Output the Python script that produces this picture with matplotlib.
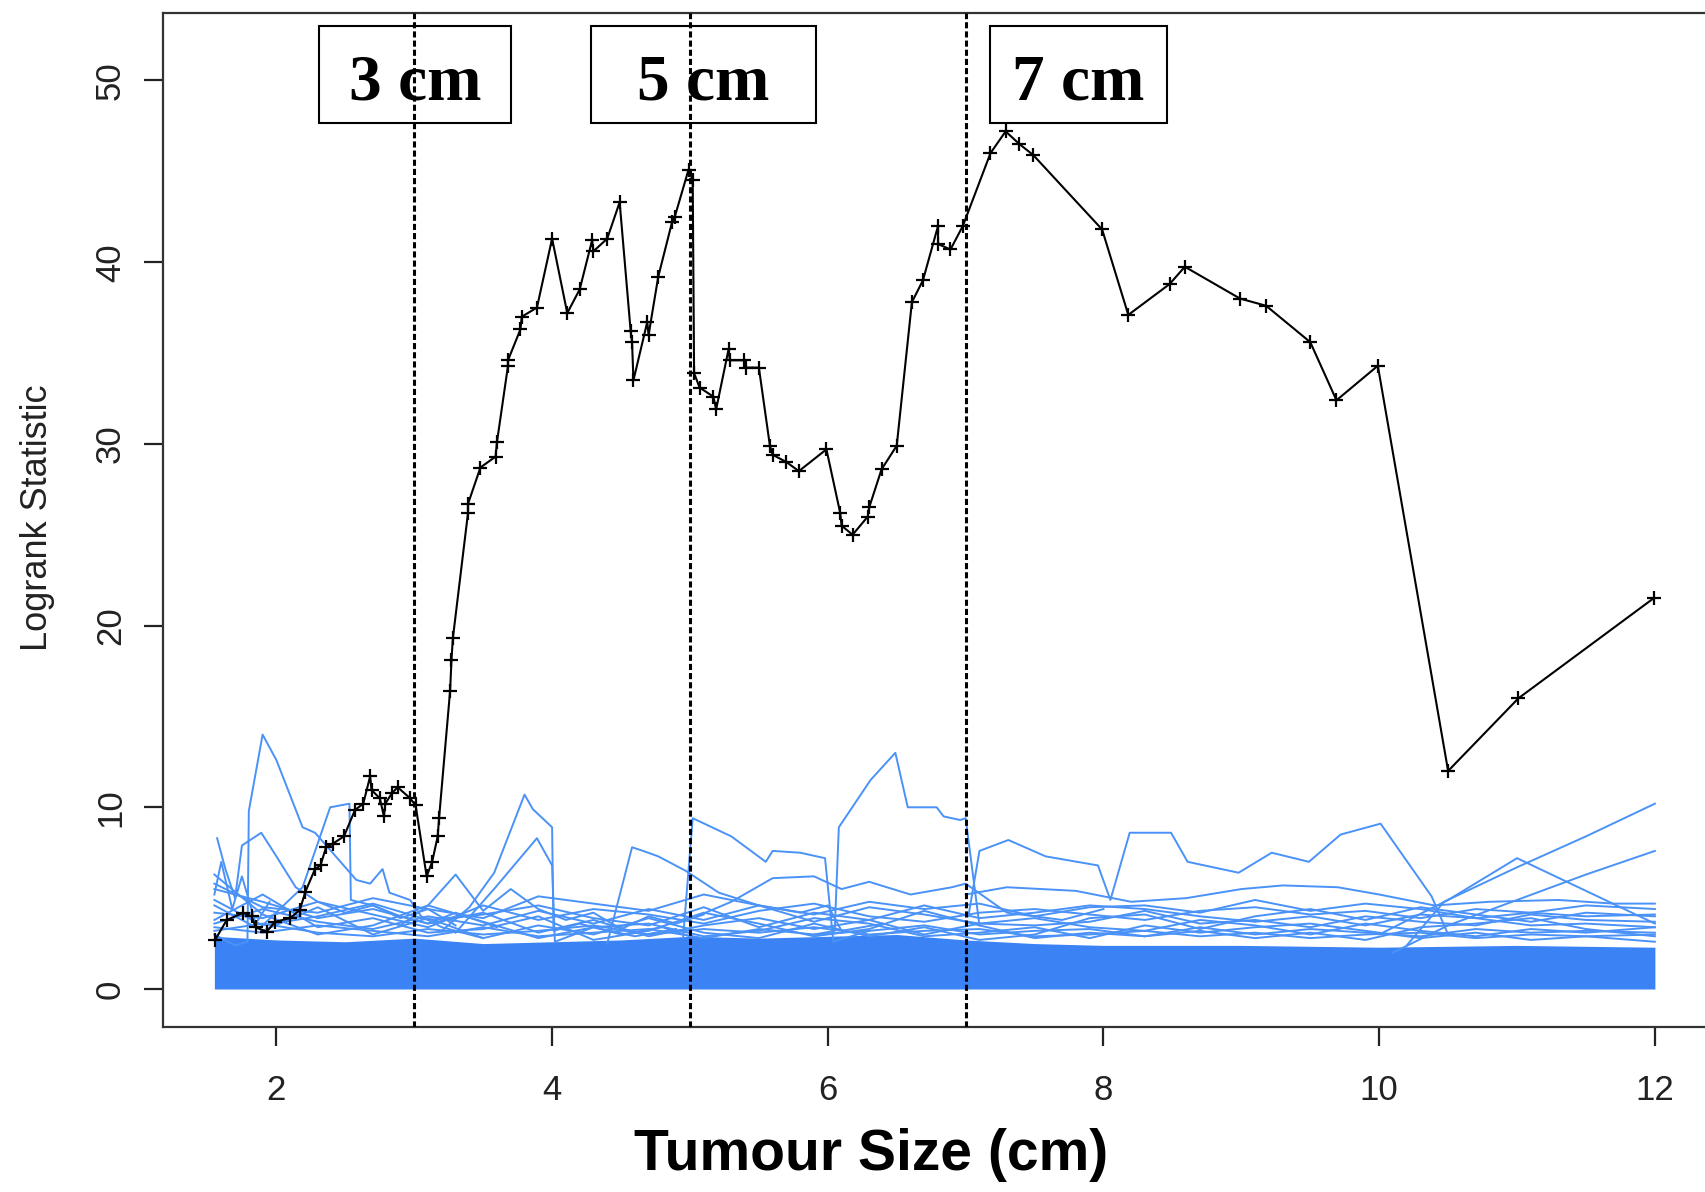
import matplotlib
matplotlib.use("Agg")
import matplotlib.pyplot as plt
from matplotlib.patches import Rectangle

# observed logrank scan (black, "+" markers)
scan_x = [1.555, 1.64, 1.76, 1.82, 1.85, 1.93, 1.99, 2.10, 2.17, 2.21, 2.28, 2.32, 2.36, 2.41,
          2.49, 2.57, 2.63, 2.68, 2.69, 2.75, 2.78, 2.79, 2.84, 2.88, 2.97, 3.01, 3.09, 3.13,
          3.17, 3.18, 3.26, 3.27, 3.28, 3.39, 3.39, 3.48, 3.59, 3.60, 3.68, 3.68, 3.77, 3.78,
          3.89, 4.00, 4.11, 4.20, 4.29, 4.30, 4.40, 4.49, 4.57, 4.58, 4.59, 4.69, 4.70, 4.77,
          4.87, 4.89, 4.99, 5.02, 5.03, 5.07, 5.17, 5.19, 5.28, 5.29, 5.39, 5.41, 5.50, 5.58,
          5.60, 5.70, 5.79, 5.99, 6.09, 6.10, 6.18, 6.29, 6.30, 6.39, 6.50, 6.61, 6.69, 6.80,
          6.80, 6.89, 6.98, 7.18, 7.29, 7.39, 7.49, 7.99, 8.18, 8.48, 8.59, 8.99, 9.18, 9.50,
          9.69, 9.99, 10.50, 11.01, 11.99]
scan_y = [2.7, 3.8, 4.2, 4.0, 3.4, 3.15, 3.7, 3.9, 4.35, 5.35, 6.6, 6.8, 7.8, 8.0,
          8.4, 9.85, 10.2, 11.7, 10.95, 10.5, 9.5, 10.2, 10.8, 11.1, 10.5, 10.1, 6.2, 7.0,
          8.4, 9.4, 16.4, 18.1, 19.3, 26.2, 26.7, 28.7, 29.3, 30.1, 34.3, 34.6, 36.3, 37.0,
          37.5, 41.3, 37.2, 38.5, 41.2, 40.6, 41.3, 43.3, 36.2, 35.6, 33.5, 36.7, 36.0, 39.2,
          42.2, 42.5, 45.1, 44.5, 33.9, 33.1, 32.6, 31.9, 35.2, 34.6, 34.6, 34.2, 34.2, 29.9,
          29.4, 29.0, 28.5, 29.7, 26.2, 25.5, 25.0, 26.0, 26.5, 28.6, 29.9, 37.8, 39.0, 42.0,
          41.0, 40.7, 42.0, 46.0, 47.2, 46.5, 45.9, 41.8, 37.1, 38.8, 39.75, 38.0, 37.6, 35.6,
          32.4, 34.3, 12.0, 16.0, 21.5]

# dense part of the bootstrap null scans (solid blue mass)
band_x = [1.55, 2.0, 2.5, 3.0, 3.5, 4.0, 4.5, 5.0, 5.5, 6.0, 6.5, 7.0, 7.5, 8.0, 9.0, 10.0, 11.0, 12.0]
band_top = [2.9, 2.7, 2.6, 2.8, 2.5, 2.6, 2.7, 2.9, 2.8, 2.9, 3.0, 2.7, 2.5, 2.4, 2.4, 2.3, 2.4, 2.3]

# individual bootstrap null scans that stand out above the mass
null_scans = [
    ([1.55, 1.7, 1.79, 1.80, 1.90, 2.0, 2.19, 2.28, 2.35, 2.58, 2.68, 2.77, 2.82, 2.97, 3.05, 3.2, 3.5],
     [3.0, 2.4, 2.6, 9.8, 14.0, 12.6, 8.9, 8.6, 8.0, 6.0, 5.8, 6.6, 5.3, 4.9, 4.0, 3.4, 2.8]),
    ([1.57, 1.63, 1.7, 1.75, 1.89, 2.0, 2.14, 2.3, 2.5, 2.7, 2.9, 3.1, 3.3],
     [8.3, 6.6, 5.0, 7.9, 8.6, 7.3, 5.6, 4.8, 4.2, 4.6, 3.9, 4.4, 3.5]),
    ([1.9, 2.19, 2.39, 2.53, 2.54, 2.7, 2.9, 3.1, 3.3, 3.6],
     [3.5, 5.6, 10.0, 10.2, 4.9, 4.6, 4.0, 3.6, 4.2, 3.4]),
    ([3.2, 3.4, 3.58, 3.8, 3.86, 4.0, 4.01, 4.2, 4.5, 4.8, 5.0],
     [3.2, 4.5, 6.4, 10.7, 9.9, 8.9, 3.2, 3.6, 3.0, 3.4, 2.9]),
    ([3.3, 3.59, 3.89, 4.0, 4.02, 4.3, 4.6, 4.9],
     [3.1, 5.6, 8.3, 6.8, 2.6, 3.4, 2.9, 3.3]),
    ([4.4, 4.58, 4.66, 4.77, 4.97, 5.07, 5.21, 5.5, 5.8, 6.0, 6.1, 6.4],
     [2.5, 7.8, 7.6, 7.3, 6.5, 6.0, 5.3, 4.6, 4.2, 4.6, 3.2, 3.6]),
    ([4.95, 5.02, 5.3, 5.55, 5.6, 5.8, 5.98, 6.04, 6.3],
     [2.8, 9.4, 8.4, 7.0, 7.6, 7.5, 7.2, 2.6, 3.2]),
    ([5.9, 6.05, 6.08, 6.31, 6.49, 6.58, 6.79, 6.84, 6.96, 7.0, 7.1],
     [3.0, 3.2, 8.9, 11.5, 13.0, 10.0, 10.0, 9.5, 9.3, 9.4, 3.5]),
    ([7.02, 7.1, 7.31, 7.58, 7.96, 8.05, 8.19, 8.49, 8.61, 8.98, 9.22, 9.49, 9.72, 10.01, 10.38, 10.5],
     [4.0, 7.6, 8.2, 7.3, 6.8, 4.9, 8.6, 8.6, 7.0, 6.4, 7.5, 7.0, 8.5, 9.1, 5.1, 3.0]),
    ([10.2, 10.47, 11.0, 11.5, 12.0], [2.4, 4.8, 6.7, 8.4, 10.2]),
    ([10.1, 10.5, 11.0, 11.5, 12.0], [2.0, 3.5, 4.9, 6.3, 7.6]),
    ([10.0, 10.5, 11.0, 11.5, 12.0], [3.0, 4.9, 7.2, 5.4, 3.6]),
    ([7.0, 7.3, 7.8, 8.2, 8.6, 9.0, 9.3, 9.7, 10.0, 10.4, 10.8, 11.3, 11.7, 12.0],
     [5.2, 5.6, 5.4, 4.8, 5.0, 5.5, 5.7, 5.6, 5.2, 4.6, 4.8, 4.9, 4.7, 4.7]),
    ([5.05, 5.3, 5.6, 5.9, 6.1, 6.3, 6.6, 6.9, 7.0, 7.3, 7.7, 8.0],
     [4.0, 4.8, 6.1, 6.2, 5.5, 5.9, 5.2, 5.6, 5.8, 4.2, 3.8, 4.4]),
    ([2.9, 3.1, 3.3, 3.5, 3.7, 3.9, 4.1, 4.3, 4.5, 4.7, 4.9, 5.1],
     [3.5, 4.6, 6.3, 4.3, 5.5, 4.4, 3.8, 4.2, 3.3, 4.0, 3.6, 4.1]),
    ([1.55, 1.6, 1.68, 1.75, 1.85, 1.95],
     [5.2, 7.0, 4.4, 6.2, 3.6, 4.8]),
]

# lower null scans that weave through the upper edge of the mass
mid_x = [1.55, 1.9, 2.3, 2.7, 3.1, 3.5, 3.9, 4.3, 4.7, 5.1, 5.5, 5.9, 6.3, 6.7, 7.1, 7.5,
         7.9, 8.3, 8.7, 9.1, 9.5, 9.9, 10.3, 10.7, 11.1, 11.5, 12.0]
mid_scans = [
    [5.5, 4.8, 3.9, 4.4, 3.6, 4.2, 3.1, 3.8, 2.9, 3.5, 3.9, 3.3, 3.8, 3.0, 3.6, 3.9,
     3.4, 3.2, 3.8, 3.5, 3.0, 3.6, 3.2, 2.9, 3.3, 3.1, 3.4],
    [4.6, 3.2, 4.5, 3.0, 3.9, 2.8, 3.5, 3.0, 3.9, 3.1, 2.8, 3.6, 2.9, 3.4, 2.7, 3.0,
     3.9, 4.1, 3.3, 4.0, 4.4, 3.8, 4.5, 4.1, 3.7, 4.2, 4.0],
    [3.8, 5.2, 3.4, 3.9, 3.1, 3.3, 4.0, 2.7, 3.2, 4.2, 3.6, 2.9, 3.3, 4.3, 3.5, 2.8,
     3.1, 2.9, 3.2, 2.8, 3.1, 2.7, 3.4, 3.6, 3.9, 3.3, 2.9],
    [6.3, 4.1, 3.0, 3.5, 4.6, 3.7, 2.8, 3.4, 3.6, 2.9, 3.2, 3.9, 3.6, 2.9, 3.1, 3.4,
     2.8, 3.5, 3.1, 3.4, 3.6, 3.2, 2.8, 3.1, 2.7, 2.9, 2.6],
    [3.2, 3.6, 3.1, 2.9, 3.3, 3.0, 3.2, 3.5, 3.0, 3.3, 3.1, 3.4, 3.0, 3.2, 3.3, 2.9,
     3.0, 3.2, 2.9, 3.1, 2.8, 3.0, 3.1, 2.8, 3.0, 2.9, 3.0],
    [4.2, 3.9, 4.8, 4.1, 3.4, 4.6, 3.8, 4.4, 4.1, 3.6, 4.3, 4.7, 4.0, 3.7, 4.2, 4.4,
     4.1, 3.8, 4.3, 4.5, 4.1, 4.3, 3.9, 4.4, 4.2, 4.6, 4.4],
    [3.6, 4.4, 3.7, 3.3, 4.0, 3.5, 4.3, 3.6, 4.4, 3.8, 4.6, 3.7, 4.5, 4.1, 3.6, 3.5,
     3.7, 4.3, 3.6, 3.8, 3.4, 4.0, 3.7, 3.5, 4.1, 3.8, 3.7],
    [4.9, 3.5, 4.0, 4.7, 3.8, 4.1, 4.6, 3.9, 3.5, 4.5, 3.4, 4.2, 3.8, 4.6, 3.9, 4.2,
     4.6, 4.4, 4.0, 3.7, 4.0, 3.5, 4.1, 3.9, 3.5, 3.6, 3.4],
    [3.4, 3.1, 3.5, 3.2, 2.9, 3.4, 2.9, 3.1, 3.3, 2.8, 3.3, 3.0, 3.2, 3.5, 3.0, 3.2,
     3.3, 2.9, 3.4, 3.0, 3.3, 3.1, 2.9, 3.3, 3.1, 3.2, 3.1],
    [5.8, 4.5, 4.2, 5.0, 4.4, 3.9, 5.1, 4.7, 4.3, 5.2, 4.6, 4.1, 4.8, 4.4, 4.7, 4.0,
     4.5, 4.6, 4.2, 4.9, 4.3, 4.7, 4.4, 3.9, 4.2, 4.0, 4.1],
]

cutoffs = [3, 5, 7]
cutoff_labels = ["3 cm", "5 cm", "7 cm"]
# label boxes, pixel extents in the 1706x1192 figure (left, top, right, bottom)
box_px = [(319, 26, 511, 123), (591, 26, 816, 123), (990, 26, 1167, 123)]

W, H = 1706, 1192
AX_L, AX_R, AX_T, AX_B = 163, 1706, 13, 1027

fig = plt.figure(figsize=(W / 100, H / 100), dpi=100)
ax = fig.add_axes([AX_L / W, (H - AX_B) / H, (AX_R - AX_L) / W, (AX_B - AX_T) / H])


def axfrac(px, py):
    return (px - AX_L) / (AX_R - AX_L), (AX_B - py) / (AX_B - AX_T)


blue = "#3b83f4"
line_blue = "#4a92f7"

ax.fill_between(band_x, 0, band_top, color=blue, lw=0, zorder=2)
for xs, ys in null_scans:
    ax.plot(xs, ys, color=line_blue, lw=1.4, zorder=2)
for ys in mid_scans:
    ax.plot(mid_x, ys, color=line_blue, lw=1.4, zorder=2)

ax.plot(scan_x, scan_y, color="black", lw=1.5, marker="+", ms=10, mew=1.6, zorder=4)

for (l, t, r, b), lab in zip(box_px, cutoff_labels):
    x0, y0 = axfrac(l, b)
    x1, y1 = axfrac(r, t)
    ax.add_patch(Rectangle((x0, y0), x1 - x0, y1 - y0, transform=ax.transAxes,
                           facecolor="white", edgecolor="black", lw=1.5, zorder=7))
    lx, ly = axfrac((l + r) / 2, 100)
    ax.text(lx, ly, lab, transform=ax.transAxes, fontsize=47, family="Liberation Serif",
            weight="bold", ha="center", va="baseline", zorder=8)

for c in cutoffs:
    ax.axvline(c, color="black", lw=2.2, linestyle=(0, (2, 1)), zorder=9)

ax.set_xlim((AX_L - 0.7) / 137.85, (AX_R - 0.7) / 137.85)
ax.set_ylim((989 - AX_B) / 18.17, (989 - AX_T) / 18.17)
ax.set_xticks([2, 4, 6, 8, 10, 12])
ax.set_yticks([0, 10, 20, 30, 40, 50])

ax.spines["right"].set_visible(False)
for s in ["left", "top", "bottom"]:
    ax.spines[s].set_linewidth(1.6)
    ax.spines[s].set_color("#333333")

ax.tick_params(axis="both", length=14, width=1.6, color="#222222", labelsize=25,
               labelcolor="#222222")
ax.tick_params(axis="x", pad=20)
ax.tick_params(axis="y", pad=12)
for lab in ax.get_yticklabels():
    lab.set_rotation(90)
    lab.set_va("center")
for lab in ax.get_xticklabels() + ax.get_yticklabels():
    lab.set_family("Liberation Sans")

fig.text(38 / W, 1 - 518 / H, "Logrank Statistic", rotation=90, ha="center", va="center",
         fontsize=26, family="Liberation Sans", color="#222222")
fig.text(871 / W, 1 - 1155 / H, "Tumour Size (cm)", ha="center", va="center",
         fontsize=41, family="Liberation Sans", weight="bold")

fig.savefig("out.png", dpi=100)
